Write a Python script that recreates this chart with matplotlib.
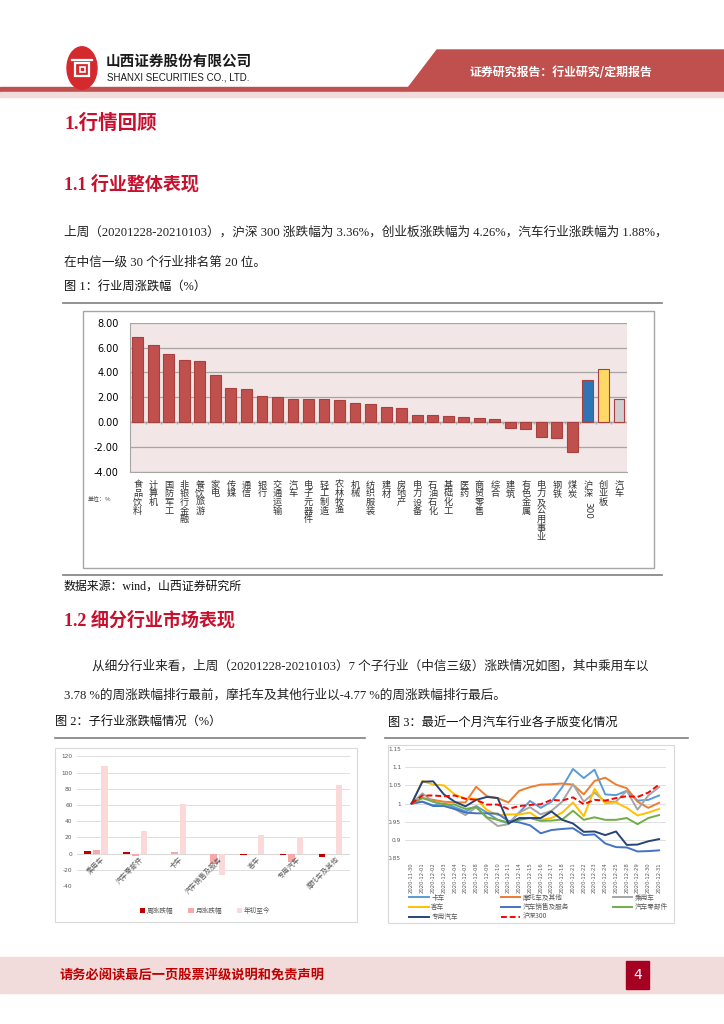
import numpy as np
import matplotlib.pyplot as plt
from matplotlib.patches import Rectangle, Polygon, Circle

plt.rcParams['font.family'] = ['Liberation Serif', 'Noto Sans CJK SC']
CJK = ['Noto Sans CJK SC', 'DejaVu Sans']
SANS = ['DejaVu Sans', 'Noto Sans CJK SC']

# ---- data ----
ind_names = ['食品饮料', '计算机', '国防军工', '非银行金融', '餐饮旅游', '家电', '传媒', '通信',
             '银行', '交通运输', '汽车', '电子元器件', '轻工制造', '农林牧渔', '机械', '纺织服装',
             '建材', '房地产', '电力设备', '石油石化', '基础化工', '医药', '商贸零售', '综合',
             '建筑', '有色金属', '电力及公用事业', '钢铁', '煤炭', '沪深300', '创业板', '汽车']
ind_chg = [6.87, 6.23, 5.50, 4.96, 4.88, 3.75, 2.78, 2.67, 2.13, 2.00, 1.88, 1.83, 1.83, 1.75,
           1.51, 1.46, 1.24, 1.13, 0.59, 0.59, 0.46, 0.38, 0.32, 0.27, -0.46, -0.54, -1.24,
           -1.32, -2.45, 3.36, 4.26, 1.88]
ind_colors = ['#C0504D'] * 29 + ['#2E75B6', '#FFD966', '#D0CECE']

sub_names = ['乘用车', '汽车零部件', '卡车', '汽车销售及服务', '客车', '专用汽车', '摩托车及其他']
sub_week = [3.78, 1.4, -0.8, -0.9, -2.2, -1.9, -4.77]
sub_month = [4.8, -3.5, 1.9, -13.2, -0.9, -10.0, -0.8]
sub_ytd = [108.6, 28.3, 61.0, -27.0, 22.8, 20.3, 84.6]

dates = ['2020-11-30', '2020-12-01', '2020-12-02', '2020-12-03', '2020-12-04', '2020-12-07',
         '2020-12-08', '2020-12-09', '2020-12-10', '2020-12-11', '2020-12-14', '2020-12-15',
         '2020-12-16', '2020-12-17', '2020-12-18', '2020-12-21', '2020-12-22', '2020-12-23',
         '2020-12-24', '2020-12-25', '2020-12-28', '2020-12-29', '2020-12-30', '2020-12-31']
truck = [1.0, 1.005, 0.995, 1.0, 0.99, 0.978, 0.993, 0.975, 0.955, 0.945, 0.975, 1.007,
         0.988, 1.005, 1.045, 1.095, 1.070, 1.093, 1.025, 1.023, 1.035, 1.008, 1.010, 1.022]
moto = [1.0, 1.015, 1.010, 1.005, 1.003, 1.003, 1.046, 1.020, 1.015, 1.003, 1.035, 1.045,
        1.052, 1.053, 1.055, 1.052, 1.025, 1.062, 1.071, 1.052, 1.042, 1.005, 0.988, 1.002]
car = [1.0, 1.028, 1.005, 0.995, 0.985, 0.968, 0.990, 0.960, 0.938, 0.943, 0.975, 0.990,
       0.970, 0.980, 1.005, 1.053, 1.005, 1.030, 1.005, 1.005, 1.035, 0.983, 1.022, 1.045]
bus = [1.0, 1.062, 1.052, 1.050, 1.025, 1.013, 1.013, 0.982, 0.968, 0.970, 0.970, 0.975,
       0.955, 0.960, 0.975, 1.003, 0.965, 1.040, 1.000, 1.003, 0.988, 0.967, 0.975, 0.985]
sales = [1.0, 1.005, 0.993, 0.993, 0.985, 0.975, 0.973, 0.973, 0.972, 0.952, 0.948, 0.940,
         0.918, 0.927, 0.930, 0.932, 0.913, 0.915, 0.890, 0.880, 0.879, 0.868, 0.869, 0.871]
parts = [1.0, 1.015, 1.005, 0.998, 0.997, 0.985, 0.990, 0.962, 0.955, 0.948, 0.955, 0.960,
         0.952, 0.953, 0.956, 0.980, 0.955, 0.962, 0.955, 0.955, 0.960, 0.943, 0.960, 0.968]
special = [1.0, 1.060, 1.061, 1.025, 1.005, 0.992, 1.010, 1.018, 1.015, 0.945, 0.960, 0.960,
           0.960, 0.978, 0.955, 0.945, 0.922, 0.923, 0.913, 0.923, 0.886, 0.887, 0.896, 0.902]
hs300 = [1.0, 1.022, 1.022, 1.020, 1.022, 1.013, 1.010, 0.997, 0.997, 0.985, 0.993, 0.996,
         0.998, 1.010, 1.008, 1.017, 0.998, 1.010, 1.008, 1.015, 1.020, 1.018, 1.030, 1.052]

W, H = 724, 1024


def fx(x):
    return x / W


def fy(y):
    return 1 - y / H


def box(l, t, r, b):
    return [fx(l), fy(b), fx(r) - fx(l), fy(t) - fy(b)]


def hline(fig, x0, x1, y, color='#7F7F7F', lw=1.2):
    fig.add_artist(plt.Line2D([fx(x0), fx(x1)], [fy(y), fy(y)], color=color, lw=lw,
                              transform=fig.transFigure))


fig = plt.figure(figsize=(7.24, 10.24), dpi=100)

# ---- header ----
fig.add_artist(Polygon([(fx(408), fy(88)), (fx(437), fy(50)), (fx(724), fy(50)), (fx(724), fy(88))],
                       closed=True, color='#C0504D', transform=fig.transFigure))
fig.add_artist(Rectangle((fx(0), fy(92)), 1, fy(87) - fy(92), color='#C0504D',
                         transform=fig.transFigure))
fig.add_artist(Rectangle((fx(0), fy(97)), 1, fy(92) - fy(97), color='#F2DCDB',
                         transform=fig.transFigure))
fig.add_artist(Circle((fx(82), fy(68)), 15 / W, color='#D42A2E', transform=fig.transFigure))
fig.add_artist(Rectangle((fx(75), fy(76)), 14 / W, 13 / H, fill=False, ec='white', lw=1.6,
                         transform=fig.transFigure))
fig.add_artist(Rectangle((fx(79.5), fy(72)), 5 / W, 5 / H, fill=False, ec='white', lw=1.2,
                         transform=fig.transFigure))
hline(fig, 72, 92, 60, color='white', lw=1.6)
fig.text(fx(106), fy(61), '山西证券股份有限公司', family=CJK, fontsize=10.5, weight='bold',
         va='center', ha='left', color='#1A1A1A')
fig.text(fx(107), fy(77), 'SHANXI SECURITIES CO., LTD.', family=['Liberation Sans'], fontsize=7,
         va='center', ha='left', color='#1A1A1A')
fig.text(fx(470), fy(72), '证券研究报告：行业研究/定期报告', family=CJK, fontsize=8.6,
         weight='bold', va='center', ha='left', color='white')

# ---- body text ----
red = '#C8102E'
fig.text(fx(64), fy(123), '1.行情回顾', fontsize=14, weight='bold', color=red, va='center')
fig.text(fx(64), fy(184), '1.1 行业整体表现', fontsize=13, weight='bold', color=red, va='center')
fig.text(fx(64), fy(232), '上周（20201228-20210103），沪深 300 涨跌幅为 3.36%，创业板涨跌幅为 4.26%，汽车行业涨跌幅为 1.88%，',
         fontsize=9.1, va='center', color='#222222')
fig.text(fx(64), fy(262), '在中信一级 30 个行业排名第 20 位。', fontsize=9.1, va='center', color='#222222')
fig.text(fx(64), fy(288), '图 1：行业周涨跌幅（%）', fontsize=8.8, va='center', color='#111111')
hline(fig, 63, 662, 303)
hline(fig, 63, 662, 575)
fig.text(fx(64), fy(587), '数据来源：wind，山西证券研究所', fontsize=8.6, va='center', color='#111111')
fig.text(fx(64), fy(620), '1.2 细分行业市场表现', fontsize=13, weight='bold', color=red, va='center')
fig.text(fx(92), fy(666), '从细分行业来看，上周（20201228-20210103）7 个子行业（中信三级）涨跌情况如图，其中乘用车以',
         fontsize=9.1, va='center', color='#222222')
fig.text(fx(64), fy(695), '3.78 %的周涨跌幅排行最前，摩托车及其他行业以-4.77 %的周涨跌幅排行最后。',
         fontsize=9.1, va='center', color='#222222')
fig.text(fx(55), fy(723), '图 2：子行业涨跌幅情况（%）', fontsize=8.8, va='center', color='#111111')
fig.text(fx(388), fy(723), '图 3：最近一个月汽车行业各子版变化情况', fontsize=8.8, va='center', color='#111111')
hline(fig, 55, 365, 738)
hline(fig, 385, 688, 738)

# ---- footer ----
fig.add_artist(Rectangle((fx(0), fy(993)), 1, fy(957) - fy(993), color='#F2DCDB',
                         transform=fig.transFigure))
fig.text(fx(60), fy(976), '请务必阅读最后一页股票评级说明和免责声明', family=CJK, fontsize=9.5,
         weight='bold', color='#C00000', va='center')
fig.add_artist(Rectangle((fx(626), fy(989)), 23 / W, 28 / H, color='#A50021',
                         transform=fig.transFigure))
fig.text(fx(637.5), fy(975), '4', family=SANS, fontsize=10, color='white', ha='center', va='center')

# ---- figure 1 ----
fig.add_artist(Rectangle((fx(83), fy(568)), fx(654) - fx(83), fy(311) - fy(568), fill=False,
                         ec='#A6A6A6', lw=1.0, transform=fig.transFigure))
ax1 = fig.add_axes(box(130, 322.7, 626.7, 471.7))
ax1.set_facecolor('#F2E6E6')
x1 = np.arange(len(ind_names))
ax1.bar(x1, ind_chg, width=0.7, color=ind_colors, edgecolor='#A8403D', linewidth=0.8, zorder=3)
ax1.set_xlim(-0.5, len(ind_names) - 0.5)
ax1.set_ylim(-4, 8)
ax1.set_yticks(np.arange(-4, 8.1, 2))
ax1.set_yticklabels(['%.2f' % v for v in np.arange(-4, 8.1, 2)], family=SANS, fontsize=7)
ax1.grid(axis='y', color='#A6A6A6', lw=0.9, zorder=1)
ax1.set_xticks([])
ax1.axhline(0, color='#A6A6A6', lw=1.0, zorder=2)
ax1.vlines(np.arange(len(ind_names) + 1) - 0.5, -0.18, 0, color='#A6A6A6', lw=0.8, zorder=2)
for s in ['top', 'right']:
    ax1.spines[s].set_visible(False)
for s in ['left', 'bottom']:
    ax1.spines[s].set_color('#A6A6A6')
ax1.tick_params(axis='y', length=0, pad=8)
tr1 = ax1.get_xaxis_transform()
for i, name in enumerate(ind_names):
    if name == '沪深300':
        ax1.text(i, -0.06, '沪\n深', transform=tr1, family=CJK, fontsize=6.6, ha='center',
                 va='top', linespacing=0.95, color='#333333')
        ax1.text(i, -0.205, '300', transform=tr1, family=SANS, fontsize=6.4, ha='center',
                 va='top', rotation=-90, color='#333333')
    else:
        ax1.text(i, -0.06, '\n'.join(name), transform=tr1, family=CJK, fontsize=6.6,
                 ha='center', va='top', linespacing=0.95, color='#333333')
fig.text(fx(88), fy(498), '单位：%', family=CJK, fontsize=4.3, va='center', color='#444444')

# ---- figure 2 ----
fig.add_artist(Rectangle((fx(55), fy(922)), fx(357) - fx(55), fy(748) - fy(922), fill=False,
                         ec='#D9D9D9', lw=0.8, transform=fig.transFigure))
ax2 = fig.add_axes(box(76.7, 756.3, 350, 886))
x2 = np.arange(len(sub_names))
bw = 0.17
ax2.bar(x2 - 0.22, sub_week, bw, color='#C00000', label='周涨跌幅', zorder=3)
ax2.bar(x2, sub_month, bw, color='#F7A8A8', label='月涨跌幅', zorder=3)
ax2.bar(x2 + 0.22, sub_ytd, bw, color='#FCD9D9', label='年初至今', zorder=3)
ax2.set_xlim(-0.5, len(sub_names) - 0.5)
ax2.set_ylim(-40, 120)
ax2.set_yticks(np.arange(-40, 121, 20))
ax2.set_yticklabels([str(v) for v in range(-40, 121, 20)], family=SANS, fontsize=4.2,
                    color='#595959')
ax2.grid(axis='y', color='#D9D9D9', lw=0.6, zorder=1)
ax2.axhline(0, color='#D9D9D9', lw=0.8, zorder=2)
ax2.set_xticks([])
for s in ax2.spines.values():
    s.set_visible(False)
ax2.tick_params(axis='y', length=0, pad=3)
for i, name in enumerate(sub_names):
    ax2.text(i + 0.12, -2.5, name, family=CJK, fontsize=5, rotation=45, ha='right', va='top',
             rotation_mode='anchor', color='#595959')
ax2.legend(loc='center', bbox_to_anchor=(0.47, -0.19), ncol=3, frameon=False,
           prop={'family': CJK, 'size': 4.8}, handlelength=0.8, handleheight=0.8,
           columnspacing=2.2, handletextpad=0.3, labelcolor='#595959')

# ---- figure 3 ----
fig.add_artist(Rectangle((fx(388), fy(923)), fx(674) - fx(388), fy(745) - fy(923), fill=False,
                         ec='#D9D9D9', lw=0.8, transform=fig.transFigure))
ax3 = fig.add_axes(box(405.2, 749, 665.5, 858))
x3 = np.arange(len(dates))
l_truck, = ax3.plot(x3, truck, color='#5B9BD5', lw=1.4, label='卡车')
l_moto, = ax3.plot(x3, moto, color='#ED7D31', lw=1.4, label='摩托车及其他')
l_car, = ax3.plot(x3, car, color='#A5A5A5', lw=1.4, label='乘用车')
l_bus, = ax3.plot(x3, bus, color='#FFC000', lw=1.4, label='客车')
l_sales, = ax3.plot(x3, sales, color='#4472C4', lw=1.4, label='汽车销售及服务')
l_parts, = ax3.plot(x3, parts, color='#70AD47', lw=1.4, label='汽车零部件')
l_spec, = ax3.plot(x3, special, color='#264478', lw=1.4, label='专用汽车')
l_hs, = ax3.plot(x3, hs300, color='#FF0000', lw=1.4, ls=(0, (3, 1.5)), label='沪深300')
ax3.set_xlim(-0.6, len(dates) - 0.4)
ax3.set_ylim(0.85, 1.15)
ax3.set_yticks([0.85, 0.9, 0.95, 1.0, 1.05, 1.1, 1.15])
ax3.set_yticklabels(['0.85', '0.9', '0.95', '1', '1.05', '1.1', '1.15'], family=SANS,
                    fontsize=4.2, color='#595959')
ax3.grid(axis='y', color='#D9D9D9', lw=0.6)
ax3.set_axisbelow(True)
ax3.set_xticks(x3)
ax3.set_xticklabels(dates, rotation=90, family=SANS, fontsize=3.8, color='#595959')
for s in ax3.spines.values():
    s.set_visible(False)
ax3.tick_params(length=0, pad=3)
order = [l_truck, l_bus, l_spec, l_moto, l_sales, l_hs, l_car, l_parts]
ax3.legend(order, [h.get_label() for h in order], loc='upper left', bbox_to_anchor=(0.0, -0.29),
           ncol=3, frameon=False, prop={'family': CJK, 'size': 4.8}, handlelength=2.9,
           columnspacing=6.5, handletextpad=0.4, labelspacing=0.25, borderpad=0.1,
           labelcolor='#595959')

plt.savefig('out.png', dpi=100)
